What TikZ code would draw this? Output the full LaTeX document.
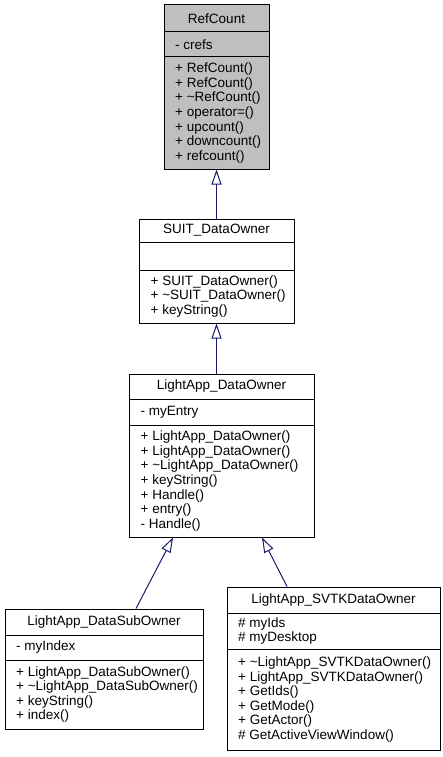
\documentclass[tikz,border=0pt]{standalone}
\usepackage{fontspec}
\setmainfont{Liberation Sans}
\usetikzlibrary{arrows.meta,calc}
\definecolor{edgeblue}{HTML}{191970}
\definecolor{focusgray}{HTML}{BFBFBF}
\newcommand\umlfont{\fontsize{13.5}{14.6}\selectfont}
\newcommand\tl{\textasciitilde}
\tikzset{
  classbox/.style={draw=black, line width=1pt, rectangle, inner sep=0pt},
  divider/.style={draw=black, line width=1pt},
  cname/.style={font=\umlfont, inner sep=0pt},
  members/.style={font=\umlfont, align=left, anchor=west, inner sep=0pt},
  inherit/.style={draw=edgeblue, line width=1pt, -{Triangle[open, length=15pt, width=10pt]}},
}
\begin{document}
\begin{tikzpicture}[x=1pt, y=-1pt]
\useasboundingbox (0,0) rectangle (442,757);

% RefCount
\node[classbox, fill=focusgray, minimum width=105pt, minimum height=164pt] (refcount) at (216.5,87) {};
\draw[divider] (refcount.west |- 0,32) -- (refcount.east |- 0,32);
\draw[divider] (refcount.west |- 0,57) -- (refcount.east |- 0,57);
\node[cname] (refcountT) at (216.5,18.5) {RefCount};
\node[members] (refcountA) at (175,44.5) {- crefs};
\node[members] (refcountM) at (175,113) {+ RefCount()\\+ RefCount()\\+ \tl RefCount()\\+ operator=()\\+ upcount()\\+ downcount()\\+ refcount()};

% SUIT_DataOwner
\node[classbox, fill=white, minimum width=155pt, minimum height=104pt] (suit) at (216.5,271) {};
\draw[divider] (suit.west |- 0,242) -- (suit.east |- 0,242);
\draw[divider] (suit.west |- 0,270) -- (suit.east |- 0,270);
\node[cname] (suitT) at (216.5,230.5) {SUIT\_DataOwner};
\node[members] (suitM) at (150.5,296.5) {+ SUIT\_DataOwner()\\+ \tl SUIT\_DataOwner()\\+ keyString()};

% LightApp_DataOwner
\node[classbox, fill=white, minimum width=185pt, minimum height=163pt] (owner) at (221.5,455.5) {};
\draw[divider] (owner.west |- 0,399) -- (owner.east |- 0,399);
\draw[divider] (owner.west |- 0,425) -- (owner.east |- 0,425);
\node[cname] (ownerT) at (221.5,386.5) {LightApp\_DataOwner};
\node[members] (ownerA) at (140.5,412) {- myEntry};
\node[members] (ownerM) at (140.5,481) {+ LightApp\_DataOwner()\\+ LightApp\_DataOwner()\\+ \tl LightApp\_DataOwner()\\+ keyString()\\+ Handle()\\+ entry()\\- Handle()};

% LightApp_DataSubOwner
\node[classbox, fill=white, minimum width=198pt, minimum height=120pt] (subowner) at (104,669) {};
\draw[divider] (subowner.west |- 0,635) -- (subowner.east |- 0,635);
\draw[divider] (subowner.west |- 0,660) -- (subowner.east |- 0,660);
\node[cname] (subownerT) at (104,622) {LightApp\_DataSubOwner};
\node[members] (subownerA) at (16,647.5) {- myIndex};
\node[members] (subownerM) at (16,694.5) {+ LightApp\_DataSubOwner()\\+ \tl LightApp\_DataSubOwner()\\+ keyString()\\+ index()};

% LightApp_SVTKDataOwner
\node[classbox, fill=white, minimum width=213pt, minimum height=163pt] (svtk) at (333.5,668.5) {};
\draw[divider] (svtk.west |- 0,613) -- (svtk.east |- 0,613);
\draw[divider] (svtk.west |- 0,649) -- (svtk.east |- 0,649);
\node[cname] (svtkT) at (333.5,600) {LightApp\_SVTKDataOwner};
\node[members] (svtkA) at (238,631) {\# myIds\\\# myDesktop};
\node[members] (svtkM) at (238,699.5) {+ \tl LightApp\_SVTKDataOwner()\\+ LightApp\_SVTKDataOwner()\\+ GetIds()\\+ GetMode()\\+ GetActor()\\\# GetActiveViewWindow()};

% inheritance
\draw[inherit] (suit.north) -- (refcount.south);
\draw[inherit] (suit.south |- owner.north) -- (suit.south);
\draw[inherit] ([xshift=32pt]subowner.north) -- ([xshift=-48.5pt]owner.south);
\draw[inherit] ([xshift=-46.5pt]svtk.north) -- ([xshift=40.5pt]owner.south);
\end{tikzpicture}
\end{document}
